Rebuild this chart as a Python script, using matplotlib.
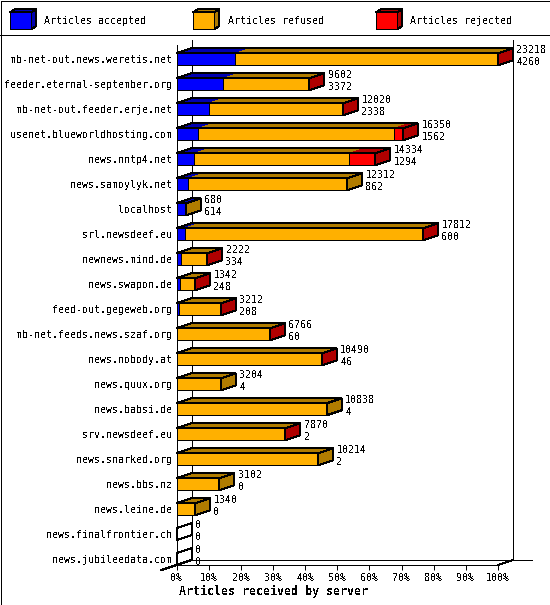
import numpy as np
import matplotlib
matplotlib.use("Agg")
import matplotlib.pyplot as plt
from matplotlib.patches import Polygon, Rectangle
from matplotlib.lines import Line2D

# data
servers = ["mb-net-out.news.weretis.net", "feeder.eternal-september.org",
           "mb-net-out.feeder.erje.net", "usenet.blueworldhosting.com",
           "news.nntp4.net", "news.samoylyk.net", "localhost", "srl.newsdeef.eu",
           "newnews.mind.de", "news.swapon.de", "feed-out.gegeweb.org",
           "mb-net.feeds.news.szaf.org", "news.nobody.at", "news.quux.org",
           "news.babsi.de", "srv.newsdeef.eu", "news.snarked.org", "news.bbs.nz",
           "news.leine.de", "news.finalfrontier.ch", "news.jubileedata.com"]
totals = [23218, 9602, 12020, 16350, 14334, 12312, 680, 17812, 2222, 1342, 3212,
          6766, 10490, 3204, 10838, 7870, 10214, 3102, 1340, 0, 0]
accepted = [4260, 3372, 2338, 1562, 1294, 862, 614, 600, 334, 248, 208,
            60, 46, 4, 4, 2, 2, 0, 0, 0, 0]
refused = [18898, 6150, 9592, 14168, 11160, 11450, 66, 17172, 1818, 1032, 2954,
           6666, 10419, 3200, 10834, 7848, 10212, 3102, 1340, 0, 0]
rejected = [60, 80, 90, 620, 1880, 0, 0, 40, 70, 62, 50,
            40, 25, 0, 0, 20, 0, 0, 0, 0, 0]
series_names = ["Articles accepted", "Articles refused", "Articles rejected"]
pct_ticks = [0, 10, 20, 30, 40, 50, 60, 70, 80, 90, 100]

front_cols = ["#0000ff", "#ffb000", "#ff0000"]
dark_cols = ["#0000b0", "#b07c00", "#b00000"]

W, H = 550, 605
LW = 0.72  # one pixel
plt.rcParams["font.family"] = "DejaVu Sans Mono"
plt.rcParams["text.antialiased"] = False

fig = plt.figure(figsize=(W / 100, H / 100), dpi=100)

# overlay in image pixels, for frame and legend
ov = fig.add_axes([0, 0, 1, 1], zorder=0)
ov.set_xlim(0, W)
ov.set_ylim(H, 0)
ov.axis("off")

# plot area (front plane)
left, right, top, bottom = 176.5, 498, 45, 565
ax = fig.add_axes([left / W, 1 - bottom / H, (right - left) / W, (bottom - top) / H],
                  zorder=1)
ax.patch.set_alpha(0)
n = len(servers)
row_px = 25.0
first_c = 59.3
xmax = max(totals)
ax.set_xlim(0, xmax)
ax.set_ylim((bottom - first_c) / row_px, -(first_c - top) / row_px)

# depth of the 3d effect: 15px right, 5px up
p0 = ax.transData.transform((0, 0))
dx, dy = ax.transData.inverted().transform(p0 + np.array([15, 5]))
hh = 6 / row_px

for sp in ["top", "right"]:
    ax.spines[sp].set_visible(False)
for sp in ["left", "bottom"]:
    ax.spines[sp].set_linewidth(LW)
    ax.spines[sp].set_antialiased(False)

ax.set_yticks(range(n))
ax.set_yticklabels(servers, fontsize=7.2)
ax.tick_params(axis="y", length=0, pad=3)
ax.set_xticks([p / 100 * xmax for p in pct_ticks])
ax.set_xticklabels(["%d%%" % p for p in pct_ticks], fontsize=7.2)
ax.tick_params(axis="x", direction="out", length=3.6, width=LW, pad=2)

# walls / floor, behind the bars
kw = dict(color="black", lw=LW, clip_on=False, antialiased=False, zorder=0.5)
ymin, ymax = ax.get_ylim()
ax.add_line(Line2D([dx, dx], [ymin + dy, ymax + dy], **kw))
ax.add_line(Line2D([xmax + dx, xmax + dx], [ymin + dy, ymax + dy], **kw))
ax.add_line(Line2D([dx, xmax * 1.058 + dx], [ymin + dy, ymin + dy], **kw))
ax.add_line(Line2D([-dx, dx], [ymin - dy, ymin + dy], **kw))
ax.add_line(Line2D([xmax, xmax + dx], [ymin, ymin + dy], **kw))

# 3d bars
for i in range(n):
    segs = [accepted[i], refused[i], rejected[i]]
    edges = np.concatenate([[0], np.cumsum(segs)])
    end = edges[-1]
    yt, yb = i - hh, i + hh
    for k in range(3):
        x0, x1 = edges[k], edges[k + 1]
        if x1 <= x0:
            continue
        ax.add_patch(Polygon([(x0, yt), (x1, yt), (x1 + dx, yt + dy), (x0 + dx, yt + dy)],
                             closed=True, facecolor=dark_cols[k], edgecolor="none",
                             clip_on=False, antialiased=False))
    ax.add_patch(Polygon([(0, yt), (end, yt), (end + dx, yt + dy), (dx, yt + dy)],
                         closed=True, facecolor="none", edgecolor="black", lw=LW,
                         clip_on=False, antialiased=False))
    for k in range(3):
        x0, x1 = edges[k], edges[k + 1]
        if x1 <= x0:
            continue
        ax.add_patch(Rectangle((x0, yt), x1 - x0, yb - yt, facecolor=front_cols[k],
                               edgecolor="black", lw=LW, clip_on=False,
                               antialiased=False))
    last = [k for k in range(3) if segs[k] > 0]
    fc = dark_cols[last[-1]] if last else "none"
    ax.add_patch(Polygon([(end, yt), (end + dx, yt + dy), (end + dx, yb + dy), (end, yb)],
                         closed=True, facecolor=fc, edgecolor="black", lw=LW,
                         clip_on=False, antialiased=False))
    ax.annotate(str(totals[i]), xy=(end, i), xytext=(18.5, 9),
                textcoords="offset pixels", ha="left", va="center", fontsize=7.2,
                annotation_clip=False)
    ax.annotate(str(accepted[i]), xy=(end, i), xytext=(18.5, -2.5),
                textcoords="offset pixels", ha="left", va="center", fontsize=7.2,
                annotation_clip=False)

# frame and legend strip
ov.add_patch(Rectangle((0.5, 0.5), W - 1, H - 1, facecolor="none", edgecolor="black",
                       lw=LW, antialiased=False))
ov.add_line(Line2D([0, W], [34.5, 34.5], color="black", lw=LW, antialiased=False))
for k, name in enumerate(series_names):
    bx = 10 + 183 * k
    by0, by1 = 12.3, 29.3
    bw, ddx, ddy = 21, 5, 3
    ov.add_patch(Polygon([(bx, by0), (bx + bw, by0), (bx + bw + ddx, by0 - ddy),
                          (bx + ddx, by0 - ddy)], closed=True, facecolor=dark_cols[k],
                         edgecolor="black", lw=LW, antialiased=False))
    ov.add_patch(Polygon([(bx + bw, by0), (bx + bw + ddx, by0 - ddy),
                          (bx + bw + ddx, by1 - ddy), (bx + bw, by1)], closed=True,
                         facecolor=dark_cols[k], edgecolor="black", lw=LW,
                         antialiased=False))
    ov.add_patch(Rectangle((bx, by0), bw, by1 - by0, facecolor=front_cols[k],
                           edgecolor="black", lw=LW, antialiased=False))
    ov.text(bx + 34.5, 20.5, name, fontsize=7.2, ha="left", va="center")

ov.text(179.3, 591.7, "Articles received by server", fontsize=8.35,
        fontweight="bold", ha="left", va="center")

fig.savefig("out.png", dpi=100)
